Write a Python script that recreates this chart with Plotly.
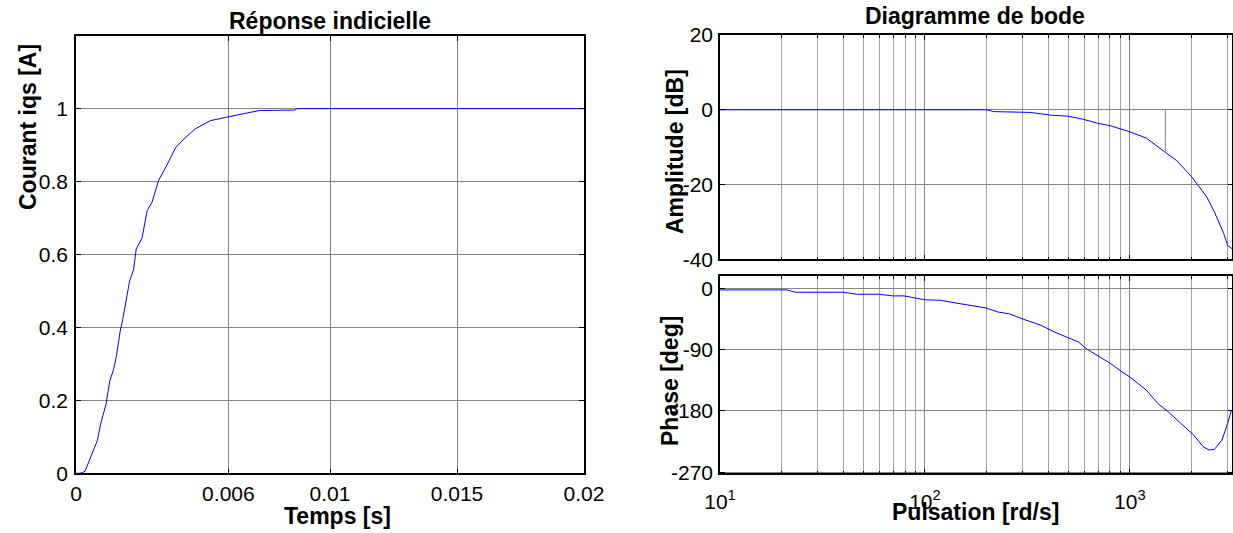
import plotly.graph_objects as go

# ---------------- data ----------------
# Step response (Réponse indicielle)
t_step = [0.0, 0.00016, 0.00035, 0.00052, 0.00068, 0.00084, 0.00098, 0.00118, 0.00133,
          0.00148, 0.00159, 0.00174, 0.00184, 0.00201, 0.00211, 0.00227, 0.00237, 0.0026,
          0.0028, 0.00299, 0.00325, 0.0036, 0.00393, 0.0043, 0.00468, 0.00529, 0.006,
          0.00665, 0.00725, 0.00861, 0.0087, 0.02]
i_step = [0.0, 0.0, 0.005, 0.036, 0.064, 0.09, 0.138, 0.189, 0.253,
          0.285, 0.321, 0.39, 0.422, 0.495, 0.527, 0.56, 0.615, 0.645,
          0.72, 0.743, 0.803, 0.848, 0.894, 0.92, 0.944, 0.967, 0.978,
          0.987, 0.995, 0.996, 1.0, 1.0]

# Bode magnitude
w_mag = [10, 20, 50, 100, 200, 218, 326, 420, 496, 588, 695, 807, 1000, 1205, 1368,
         1490, 1693, 2009, 2378, 2589, 2877, 3000, 3162]
mag_db = [0, 0, 0, 0, 0, -0.5, -0.7, -1.5, -1.7, -2.5, -3.6, -4.3, -5.9, -7.6, -10,
          -11.4, -13.6, -18, -23.4, -27.4, -33.2, -36.3, -37.2]
# stray marker line on magnitude plot
w_mark = [1490, 1490]
db_mark = [0, -11.4]

# Bode phase
w_ph = [10, 21.2, 23.4, 39.8, 46.3, 59.8, 69.5, 79, 100, 118, 140, 198, 228, 258, 299,
        370, 429, 496, 563, 613, 695, 807, 916, 1000, 1205, 1368, 1521, 1765, 2049,
        2278, 2429, 2588, 2816, 3000, 3135]
phase_deg = [-2.4, -2.4, -5.8, -5.8, -8.8, -8.8, -11.2, -11.2, -17, -17.5, -21.4, -28.7,
             -35, -37.5, -44.8, -54.6, -64.3, -71.6, -79, -88.7, -98.4, -110.6, -122.8,
             -130.1, -149.6, -169, -179.8, -197.3, -215.4, -232.4, -237.2, -236.3,
             -222.7, -198.3, -178.8]

# tick labels
step_xticks = [0, 0.006, 0.01, 0.015, 0.02]
step_xlabels = ["0", "0.006", "0.01", "0.015", "0.02"]
step_yticks = [0, 0.2, 0.4, 0.6, 0.8, 1]
step_ylabels = ["0", "0.2", "0.4", "0.6", "0.8", "1"]
mag_ticks = [-40, -20, 0, 20]
mag_labels = ["-40", "-20", "0", "20"]
ph_ticks = [-270, -180, -90, 0]
ph_labels = ["-270", "-180", "-90", "0"]
w_major = [10, 100, 1000]
w_major_labels = ["10<sup>1</sup>", "10<sup>2</sup>", "10<sup>3</sup>"]
w_minor = [20, 30, 40, 50, 60, 70, 80, 90, 200, 300, 400, 500, 600, 700, 800, 900, 2000, 3000]

# ---------------- figure ----------------
W, H = 1233, 533
FONT = "Arial, 'Liberation Sans', Helvetica, sans-serif"
BLUE = "#0000ff"
GRID = "#858585"
MINOR_GRID = "#a4a4a4"

fig = go.Figure()
fig.add_trace(go.Scatter(x=t_step, y=i_step, mode="lines", line=dict(color=BLUE, width=1),
                         xaxis="x", yaxis="y", showlegend=False))
fig.add_trace(go.Scatter(x=w_mag, y=mag_db, mode="lines", line=dict(color=BLUE, width=1),
                         xaxis="x2", yaxis="y2", showlegend=False))
fig.add_trace(go.Scatter(x=w_mark, y=db_mark, mode="lines", line=dict(color="#808080", width=1),
                         xaxis="x2", yaxis="y2", showlegend=False))
fig.add_trace(go.Scatter(x=w_ph, y=phase_deg, mode="lines", line=dict(color=BLUE, width=1),
                         xaxis="x3", yaxis="y3", showlegend=False))


def px_x(p):
    return p / W


def px_y(p):
    return 1 - p / H


common = dict(showline=True, linecolor="black", linewidth=1.6, mirror="ticks",
              ticks="inside", ticklen=5, tickcolor="black", tickwidth=1,
              showgrid=True, gridcolor=GRID, gridwidth=1, zeroline=False,
              automargin=False,
              tickfont=dict(family=FONT, size=21, color="black"))

fig.update_layout(
    width=W, height=H, margin=dict(l=0, r=0, t=0, b=0, autoexpand=False),
    paper_bgcolor="white", plot_bgcolor="white",
    xaxis=dict(domain=[px_x(76), px_x(584)], range=[0, 0.02], anchor="y",
               tickmode="array", tickvals=step_xticks, ticktext=step_xlabels,
               ticklabelstandoff=1, **common),
    yaxis=dict(domain=[px_y(473.3), px_y(35.7)], range=[0, 1.2], anchor="x",
               tickmode="array", tickvals=step_yticks, ticktext=step_ylabels,
               ticklabelstandoff=2, **common),
    xaxis2=dict(domain=[px_x(720), px_x(1232.3)], type="log", range=[1, 3.5], anchor="y2",
                tickmode="array", tickvals=w_major, showticklabels=False,
                minor=dict(tickvals=w_minor, showgrid=True, gridcolor=MINOR_GRID,
                           ticks="inside", ticklen=3, tickcolor="black"),
                **common),
    yaxis2=dict(domain=[px_y(259.3), px_y(35)], range=[-40, 20], anchor="x2",
                tickmode="array", tickvals=mag_ticks, ticktext=mag_labels,
                ticklabelstandoff=1, **common),
    xaxis3=dict(domain=[px_x(720), px_x(1232.3)], type="log", range=[1, 3.5], anchor="y3",
                tickmode="array", tickvals=w_major, ticktext=w_major_labels,
                minor=dict(tickvals=w_minor, showgrid=True, gridcolor=MINOR_GRID,
                           ticks="inside", ticklen=3, tickcolor="black"),
                ticklabelstandoff=9, **common),
    yaxis3=dict(domain=[px_y(473.3), px_y(276)], range=[-271.5, 18], anchor="x3",
                tickmode="array", tickvals=ph_ticks, ticktext=ph_labels,
                ticklabelstandoff=1, **common),
)

bold = dict(family=FONT, size=23, color="black")
annots = [
    dict(text="<b>Réponse indicielle</b>", x=px_x(330), y=px_y(21)),
    dict(text="<b>Temps [s]</b>", x=px_x(337), y=px_y(516)),
    dict(text="<b>Courant iqs [A]</b>", x=px_x(28), y=px_y(127), textangle=-90),
    dict(text="<b>Diagramme de bode</b>", x=px_x(975), y=px_y(16)),
    dict(text="<b>Amplitude [dB]</b>", x=px_x(675), y=px_y(152), textangle=-90),
    dict(text="<b>Phase [deg]</b>", x=px_x(670), y=px_y(381), textangle=-90),
    dict(text="<b>Pulsation [rd/s]</b>", x=px_x(975), y=px_y(512)),
]
for a in annots:
    fig.add_annotation(xref="paper", yref="paper", showarrow=False,
                       xanchor="center", yanchor="middle", font=bold, **a)

fig.write_html("out.html")
